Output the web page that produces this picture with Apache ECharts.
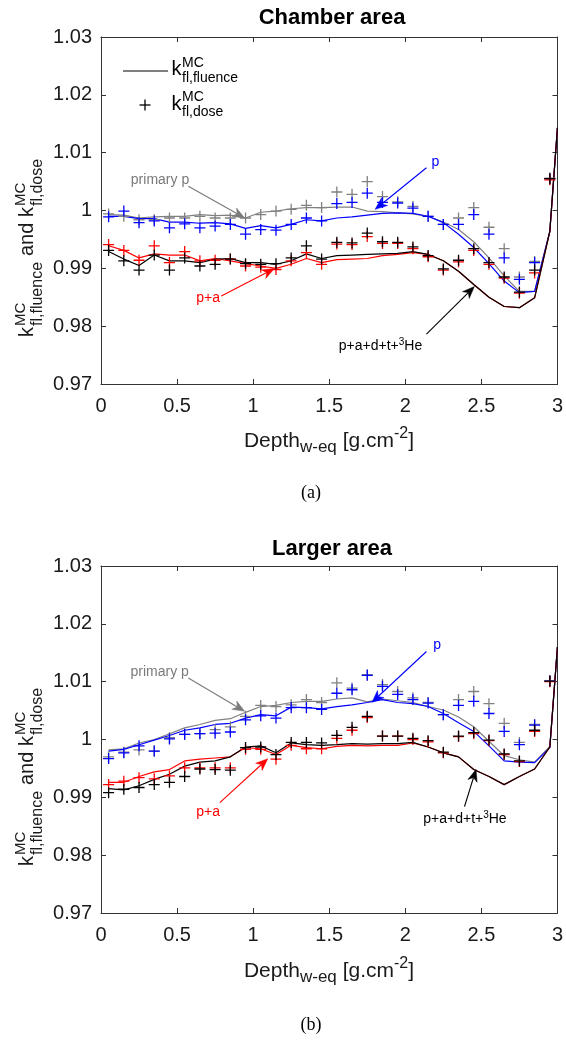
<!DOCTYPE html>
<html><head><meta charset="utf-8">
<script src="https://cdn.jsdelivr.net/npm/echarts@6/dist/echarts.min.js"></script>
<style>html,body{margin:0;padding:0;background:#fff}#c{width:566px;height:1042px}</style>
</head><body><div id="c"></div>
<script>
// ---------- data ----------
const lineX = [0.05,0.15,0.25,0.35,0.45,0.55,0.65,0.75,0.85,0.95,1.05,1.15,1.25,1.35,1.45,1.55,1.65,1.75,1.85,1.95,2.05,2.15,2.25,2.35,2.45,2.55,2.65,2.75,2.85,2.95,3.0];
const markX = [0.05,0.15,0.25,0.35,0.45,0.55,0.65,0.75,0.85,0.95,1.05,1.15,1.25,1.35,1.45,1.55,1.65,1.75,1.85,1.95,2.05,2.15,2.25,2.35,2.45,2.55,2.65,2.75,2.85,2.95];
const xTickLabels = ['0','0.5','1','1.5','2','2.5','3'];
const yTickLabels = ['0.97','0.98','0.99','1','1.01','1.02','1.03'];

// (a) Chamber area
const topGrayLine  = [0.9993,0.9992,0.9987,0.9989,0.9990,0.9990,0.9993,0.9991,0.9992,0.9987,0.9997,0.9999,1.0003,1.0005,1.0005,1.0006,1.0006,0.9999,0.9998,0.9996,0.9994,0.9990,0.9980,0.9967,0.9946,0.9918,0.9887,0.9860,0.9860,0.9964,1.0143];
const topBlueLine  = [0.9990,0.9990,0.9986,0.9986,0.9980,0.9980,0.9978,0.9979,0.9977,0.9969,0.9974,0.9970,0.9976,0.9984,0.9982,0.9987,0.9989,0.9992,0.9995,0.9996,0.9995,0.9990,0.9979,0.9959,0.9936,0.9908,0.9878,0.9858,0.9860,0.9964,1.0143];
const topRedLine   = [0.9939,0.9931,0.9918,0.9925,0.9923,0.9923,0.9913,0.9917,0.9913,0.9908,0.9904,0.9900,0.9907,0.9917,0.9910,0.9915,0.9916,0.9917,0.9922,0.9924,0.9927,0.9924,0.9913,0.9895,0.9872,0.9850,0.9834,0.9832,0.9849,0.9964,1.0143];
const topBlackLine = [0.9929,0.9916,0.9905,0.9923,0.9913,0.9913,0.9910,0.9916,0.9917,0.9910,0.9910,0.9907,0.9913,0.9925,0.9917,0.9922,0.9923,0.9924,0.9925,0.9926,0.9929,0.9924,0.9913,0.9895,0.9872,0.9850,0.9834,0.9832,0.9849,0.9964,1.0143];
const topGrayMark  = [0.9994,0.9990,0.9984,0.9984,0.9987,0.9987,0.9990,0.9987,0.9987,0.9987,0.9993,0.9999,1.0002,1.0009,1.0005,1.0032,1.0028,1.0050,1.0024,1.0015,1.0007,0.9990,0.9976,0.9987,1.0005,0.9971,0.9934,0.9885,0.9912,1.0056];
const topBlueMark  = [0.9989,0.9999,0.9979,0.9982,0.9970,0.9977,0.9970,0.9973,0.9976,0.9959,0.9967,0.9966,0.9976,0.9987,0.9982,1.0012,1.0014,1.0030,1.0014,1.0013,1.0004,0.9990,0.9976,0.9976,0.9993,0.9959,0.9918,0.9881,0.9910,1.0055];
const topRedMark   = [0.9941,0.9931,0.9914,0.9939,0.9910,0.9929,0.9913,0.9914,0.9916,0.9904,0.9902,0.9898,0.9913,0.9927,0.9907,0.9942,0.9941,0.9955,0.9943,0.9943,0.9934,0.9920,0.9897,0.9911,0.9931,0.9907,0.9883,0.9857,0.9892,1.0053];
const topBlackMark = [0.9931,0.9913,0.9897,0.9923,0.9897,0.9918,0.9904,0.9907,0.9916,0.9908,0.9907,0.9908,0.9918,0.9939,0.9916,0.9945,0.9944,0.9961,0.9946,0.9945,0.9937,0.9922,0.9899,0.9914,0.9934,0.9910,0.9885,0.9859,0.9897,1.0055];

// (b) Larger area
const botGrayLine  = [0.9982,0.9984,0.9994,1.0000,1.0010,1.0020,1.0026,1.0033,1.0036,1.0047,1.0057,1.0059,1.0064,1.0066,1.0066,1.0070,1.0072,1.0065,1.0070,1.0067,1.0064,1.0057,1.0051,1.0039,1.0022,0.9997,0.9972,0.9965,0.9961,0.9988,1.0160];
const botBlueLine  = [0.9980,0.9983,0.9991,0.9999,1.0007,1.0016,1.0020,1.0026,1.0028,1.0037,1.0043,1.0041,1.0056,1.0055,1.0053,1.0057,1.0060,1.0064,1.0069,1.0064,1.0062,1.0057,1.0045,1.0029,1.0014,0.9989,0.9963,0.9961,0.9960,0.9986,1.0160];
const botRedLine   = [0.9926,0.9926,0.9936,0.9944,0.9948,0.9963,0.9966,0.9968,0.9970,0.9986,0.9984,0.9974,0.9990,0.9986,0.9984,0.9988,0.9990,0.9989,0.9990,0.9990,0.9994,0.9987,0.9977,0.9970,0.9948,0.9936,0.9922,0.9936,0.9949,0.9987,1.0160];
const botBlackLine = [0.9915,0.9913,0.9920,0.9931,0.9940,0.9954,0.9961,0.9963,0.9970,0.9987,0.9989,0.9977,0.9994,0.9991,0.9990,0.9991,0.9993,0.9992,0.9993,0.9993,0.9995,0.9987,0.9977,0.9970,0.9948,0.9936,0.9922,0.9936,0.9949,0.9987,1.0160];
const botGrayMark  = [0.9970,0.9978,0.9982,0.9980,1.0003,1.0009,1.0010,1.0017,1.0022,1.0040,1.0059,1.0057,1.0060,1.0069,1.0064,1.0098,1.0089,1.0112,1.0095,1.0083,1.0072,1.0064,1.0043,1.0069,1.0083,1.0062,1.0028,0.9995,1.0026,1.0101];
const botBlueMark  = [0.9967,0.9977,0.9989,0.9980,1.0001,1.0009,1.0010,1.0011,1.0013,1.0034,1.0041,1.0037,1.0055,1.0055,1.0052,1.0080,1.0086,1.0111,1.0092,1.0078,1.0069,1.0063,1.0043,1.0059,1.0066,1.0045,1.0014,0.9991,1.0025,1.0101];
const botRedMark   = [0.9922,0.9928,0.9934,0.9932,0.9937,0.9951,0.9951,0.9951,0.9951,0.9983,0.9983,0.9966,0.9990,0.9984,0.9984,1.0002,1.0016,1.0038,1.0006,1.0006,1.0000,0.9996,0.9977,1.0005,1.0010,0.9998,0.9974,0.9962,1.0014,1.0100];
const botBlackMark = [0.9908,0.9914,0.9917,0.9922,0.9926,0.9936,0.9949,0.9948,0.9947,0.9986,0.9987,0.9974,0.9995,0.9995,0.9994,1.0007,1.0021,1.0040,1.0006,1.0006,1.0002,0.9998,0.9978,1.0006,1.0012,0.9999,0.9975,0.9963,1.0016,1.0101];

// annotation anchors (data coordinates)
const topNotes = [
  {label:'primary p', color:'#7a7a7a', text:[0.196,1.0053], from:[0.574,1.0042], to:[0.944,0.9987]},
  {label:'p', color:'#0000ff', text:[2.172,1.0083], from:[2.139,1.0074], to:[1.802,1.0002]},
  {label:'p+a', color:'#ff0000', text:[0.626,0.9848], from:[0.791,0.9852], to:[1.139,0.98995]},
  {label:'he', color:'#000000', text:[1.563,0.9766], from:[2.139,0.97862], to:[2.454,0.98684]}
];
const botNotes = [
  {label:'primary p', color:'#7a7a7a', text:[0.194,1.0117], from:[0.574,1.01064], to:[0.944,1.00488]},
  {label:'p', color:'#0000ff', text:[2.183,1.0164], from:[2.139,1.01522], to:[1.781,1.00643]},
  {label:'p+a', color:'#ff0000', text:[0.626,0.98736], from:[0.781,0.98908], to:[1.096,0.99667]},
  {label:'he', color:'#000000', text:[2.118,0.98621], from:[2.389,0.9884], to:[2.465,0.99483]}
];

// ---------- chart ----------
const FONT = '"Liberation Sans", Arial, Helvetica, sans-serif';
const AX = '#333333';
const GRAY = '#808080', BLUE = '#0000ff', RED = '#ff0000', BLACK = '#000000';
const PLUS = 'path://M0,5L10,5M5,0L5,10';

function zip(xs, ys){ return ys.map((v,i)=>[xs[i], v]); }

function xAxes(g){
  const base = {gridIndex:g, type:'value', min:0, max:3, interval:0.5,
    axisLine:{show:true, onZero:false, lineStyle:{color:AX, width:1}},
    axisTick:{show:true, inside:true, length:5, lineStyle:{color:AX, width:1}},
    splitLine:{show:false}};
  return [
    Object.assign({}, base, {position:'bottom',
      axisLabel:{show:true, fontSize:20, fontFamily:FONT, color:'#1a1a1a', margin:12,
        formatter:(v)=>xTickLabels[Math.round(v/0.5)]}}),
    Object.assign({}, base, {position:'top', axisLabel:{show:false}})
  ];
}
function yAxes(g){
  const base = {gridIndex:g, type:'value', min:0.97, max:1.03, interval:0.01,
    axisLine:{show:true, onZero:false, lineStyle:{color:AX, width:1}},
    axisTick:{show:true, inside:true, length:5, lineStyle:{color:AX, width:1}},
    splitLine:{show:false}};
  return [
    Object.assign({}, base, {position:'left',
      axisLabel:{show:true, fontSize:20, fontFamily:FONT, color:'#1a1a1a', margin:9,
        formatter:(v)=>yTickLabels[Math.round((v-0.97)/0.01)]}}),
    Object.assign({}, base, {position:'right', axisLabel:{show:false}})
  ];
}

function lineSeries(ax, ys, color){
  return {type:'line', xAxisIndex:ax, yAxisIndex:ax, data:zip(lineX, ys),
    symbol:'none', smooth:false, lineStyle:{color, width:1.2}, itemStyle:{color},
    silent:true, animation:false, z:2};
}
function markSeries(ax, ys, color){
  return {type:'scatter', xAxisIndex:ax, yAxisIndex:ax, data:zip(markX, ys),
    symbol:PLUS, symbolSize:11,
    itemStyle:{color:'rgba(0,0,0,0)', borderColor:color, borderWidth:1.3, opacity:1},
    silent:true, animation:false, z:3};
}
function noteSeries(ax, notes){
  return {type:'custom', xAxisIndex:ax, yAxisIndex:ax, silent:true, animation:false, z:5, clip:false,
    data: notes.map(n=>[n.to[0], n.to[1]]),
    encode:{x:0, y:1},
    renderItem:(params, api)=>{
      const n = notes[params.dataIndex];
      const p0 = api.coord(n.from), p1 = api.coord(n.to), pt = api.coord(n.text);
      const dx = p1[0]-p0[0], dy = p1[1]-p0[1], len = Math.hypot(dx,dy);
      const ux = dx/len, uy = dy/len, nx = -uy, ny = ux;
      const L = 12, W = 4.8, N = 3.5;
      const bx = p1[0]-L*ux, by = p1[1]-L*uy;
      const head = [[p1[0],p1[1]], [bx+W*nx, by+W*ny], [p1[0]-(L-N)*ux, p1[1]-(L-N)*uy], [bx-W*nx, by-W*ny]];
      const isHe = n.label === 'he';
      const textStyle = isHe ? {
          text:'{n|p+a+d+t+}{s|3}{n|He}', x:pt[0], y:pt[1], align:'left', verticalAlign:'middle',
          rich:{ n:{fontSize:14, fontFamily:FONT, fill:n.color, lineHeight:18},
                 s:{fontSize:10, fontFamily:FONT, fill:n.color, lineHeight:10, verticalAlign:'top'} } }
        : {text:n.label, x:pt[0], y:pt[1], fontSize:14, fontFamily:FONT, fill:n.color, align:'left', verticalAlign:'middle'};
      return {type:'group', children:[
        {type:'line', shape:{x1:p0[0], y1:p0[1], x2:p1[0]-(L-N)*ux, y2:p1[1]-(L-N)*uy}, style:{stroke:n.color, lineWidth:1.1}},
        {type:'polygon', shape:{points:head}, style:{fill:n.color, stroke:n.color, lineWidth:0.5}},
        {type:'text', style:textStyle}
      ]};
    }
  };
}

function seriesFor(ax, L, M, notes){
  return [
    lineSeries(ax, L[0], GRAY), lineSeries(ax, L[1], BLUE), lineSeries(ax, L[2], RED), lineSeries(ax, L[3], BLACK),
    markSeries(ax, M[0], GRAY), markSeries(ax, M[1], BLUE), markSeries(ax, M[2], RED), markSeries(ax, M[3], BLACK),
    noteSeries(ax, notes)
  ];
}

function yLabelGroup(y0){
  const t = (x,y,text,size)=>({type:'text', x, y, style:{text, fontSize:size, fontFamily:FONT, fill:'#1a1a1a', align:'left', verticalAlign:'middle'}});
  return {type:'group', x:27, y:y0, rotation:Math.PI/2, silent:true, children:[
    t(0,0,'k',20), t(11,-6.5,'MC',15), t(11,11,'fl,fluence',16),
    t(81,0,'and',20), t(120,0,'k',20), t(131,-6.5,'MC',15), t(131,11,'fl,dose',16)
  ]};
}
function xLabel(yc){
  return {type:'text', x:329, y:yc, silent:true, style:{
    text:'{m|Depth}{s|w-eq}{m| [g.cm}{p|-2}{m|]}', align:'center', verticalAlign:'middle',
    rich:{
      m:{fontSize:21, fontFamily:FONT, fill:'#1a1a1a', lineHeight:30},
      s:{fontSize:17, fontFamily:FONT, fill:'#1a1a1a', lineHeight:17, verticalAlign:'bottom'},
      p:{fontSize:16, fontFamily:FONT, fill:'#1a1a1a', lineHeight:16, verticalAlign:'top'}
    }}};
}
function txt(x,y,text,size,opts){
  return {type:'text', x, y, silent:true, style:Object.assign({text, fontSize:size, fontFamily:FONT, fill:'#000', align:'left', verticalAlign:'middle'}, opts||{})};
}

const chart = echarts.init(document.getElementById('c'), null, {renderer:'canvas'});
chart.setOption({
  animation:false,
  backgroundColor:'#ffffff',
  textStyle:{fontFamily:FONT},
  grid:[
    {left:101, top:37, width:461, height:347, containLabel:false},
    {left:101, top:566, width:461, height:347, containLabel:false}
  ],
  xAxis:[...xAxes(0), ...xAxes(1)],
  yAxis:[...yAxes(0), ...yAxes(1)],
  series:[
    ...seriesFor(0, [topGrayLine, topBlueLine, topRedLine, topBlackLine], [topGrayMark, topBlueMark, topRedMark, topBlackMark], topNotes),
    ...seriesFor(2, [botGrayLine, botBlueLine, botRedLine, botBlackLine], [botGrayMark, botBlueMark, botRedMark, botBlackMark], botNotes)
  ],
  graphic:{elements:[
    txt(332,18,'Chamber area',22,{fontWeight:'bold', align:'center'}),
    txt(332,549,'Larger area',22,{fontWeight:'bold', align:'center'}),
    // legend (top chart)
    {type:'line', silent:true, shape:{x1:123,y1:71,x2:168,y2:71}, style:{stroke:'#000', lineWidth:1.2}},
    {type:'line', silent:true, shape:{x1:139.5,y1:105,x2:150.5,y2:105}, style:{stroke:'#000', lineWidth:1.3}},
    {type:'line', silent:true, shape:{x1:145,y1:99.5,x2:145,y2:110.5}, style:{stroke:'#000', lineWidth:1.3}},
    txt(171.5,69.7,'k',20), txt(182,63.4,'MC',14), txt(182,78.6,'fl,fluence',14),
    txt(171.5,104,'k',20), txt(182,96.8,'MC',14), txt(182,112,'fl,dose',14),
    yLabelGroup(337), yLabelGroup(866),
    xLabel(441), xLabel(971),
    {type:'text', x:311, y:493, silent:true, style:{text:'(a)', fontSize:18, fontFamily:'"Liberation Serif", "Times New Roman", serif', fill:'#000', align:'center', verticalAlign:'middle'}},
    {type:'text', x:311, y:1025, silent:true, style:{text:'(b)', fontSize:18, fontFamily:'"Liberation Serif", "Times New Roman", serif', fill:'#000', align:'center', verticalAlign:'middle'}}
  ]}
});
</script>
</body></html>
